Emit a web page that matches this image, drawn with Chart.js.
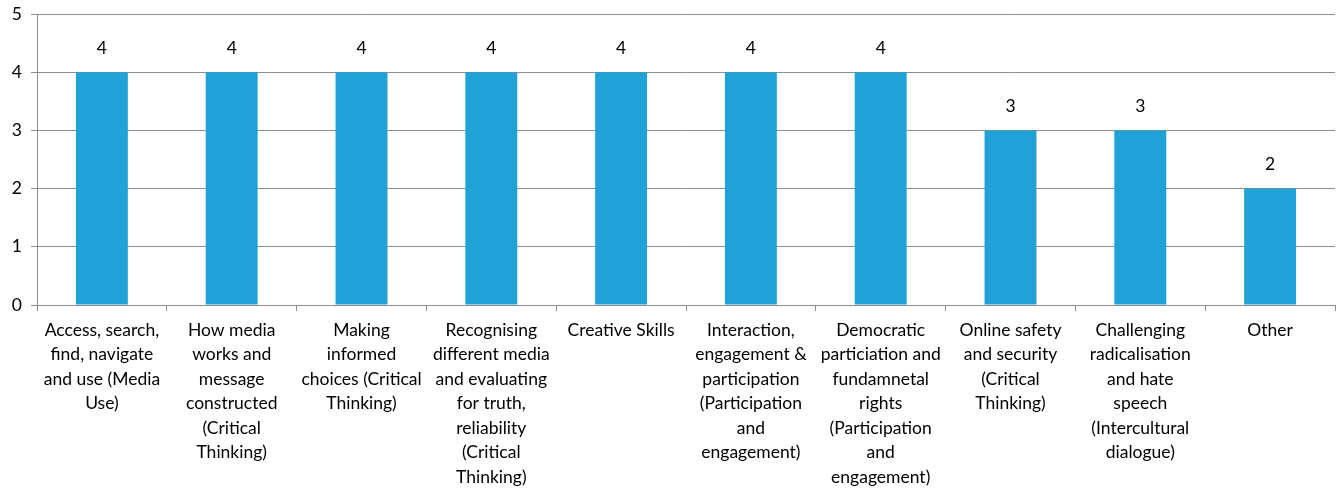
<!DOCTYPE html>
<html>
<head>
<meta charset="utf-8">
<script src="https://cdn.jsdelivr.net/npm/chart.js@4"></script>
<style>
  html, body { margin: 0; padding: 0; background: #fff; }
  #wrap { width: 1341px; height: 491px; }
</style>
</head>
<body>
<div id="wrap"><canvas id="c" width="1341" height="491"></canvas></div>
<script>
// Category labels, one array of lines per bar
const categories = [
  ["Access, search,", "find, navigate", "and use (Media", "Use)"],
  ["How media", "works and", "message", "constructed", "(Critical", "Thinking)"],
  ["Making", "informed", "choices (Critical", "Thinking)"],
  ["Recognising", "different media", "and evaluating", "for truth,", "reliability", "(Critical", "Thinking)"],
  ["Creative Skills"],
  ["Interaction,", "engagement &", "participation", "(Participation", "and", "engagement)"],
  ["Democratic", "particiation and", "fundamnetal", "rights", "(Participation", "and", "engagement)"],
  ["Online safety", "and security", "(Critical", "Thinking)"],
  ["Challenging", "radicalisation", "and hate", "speech", "(Intercultural", "dialogue)"],
  ["Other"]
];
const counts = [4, 4, 4, 4, 4, 4, 4, 3, 3, 2];
const yTicks = [0, 1, 2, 3, 4, 5];

const FONT = "Lato, 'Liberation Sans', sans-serif";
const GRID = '#8c8c8c';

// Writes each bar's value above it
const valueLabels = {
  id: 'valueLabels',
  afterDatasetsDraw(chart) {
    const ctx = chart.ctx;
    const meta = chart.getDatasetMeta(0);
    ctx.save();
    ctx.font = '17.5px ' + FONT;
    ctx.fillStyle = '#000';
    ctx.textAlign = 'center';
    ctx.textBaseline = 'middle';
    meta.data.forEach((bar, i) => {
      ctx.fillText(String(counts[i]), bar.x, bar.y - 24);
    });
    ctx.restore();
  }
};

new Chart(document.getElementById('c'), {
  type: 'bar',
  data: {
    labels: categories,
    datasets: [{
      data: counts,
      backgroundColor: '#21A2D6',
      borderWidth: 0,
      barPercentage: 0.4,
      categoryPercentage: 1.0
    }]
  },
  options: {
    responsive: false,
    animation: false,
    devicePixelRatio: 1,
    layout: { padding: { top: 14, right: 6, left: 0, bottom: 0 } },
    plugins: {
      legend: { display: false },
      tooltip: { enabled: false }
    },
    scales: {
      x: {
        offset: true,
        grid: {
          offset: true,
          drawOnChartArea: false,
          drawTicks: true,
          tickLength: 6,
          color: GRID
        },
        border: { color: GRID, width: 1 },
        ticks: {
          autoSkip: false,
          maxRotation: 0,
          minRotation: 0,
          padding: 7,
          color: '#000',
          font: { family: FONT, size: 17.5, lineHeight: 1.4 }
        },
        afterFit(scale) { scale.height = 186; }
      },
      y: {
        min: 0,
        max: 5,
        afterBuildTicks(scale) { scale.ticks = yTicks.map(v => ({ value: v })); },
        grid: {
          color: GRID,
          tickLength: 6,
          drawTicks: true
        },
        border: { color: GRID, width: 1 },
        ticks: {
          padding: 9,
          color: '#000',
          font: { family: FONT, size: 17.5 }
        },
        afterFit(scale) {
          scale.width = 37;
          scale.paddingTop = 0;
          scale.paddingBottom = 0;
        }
      }
    }
  },
  plugins: [valueLabels]
});
</script>
</body>
</html>
